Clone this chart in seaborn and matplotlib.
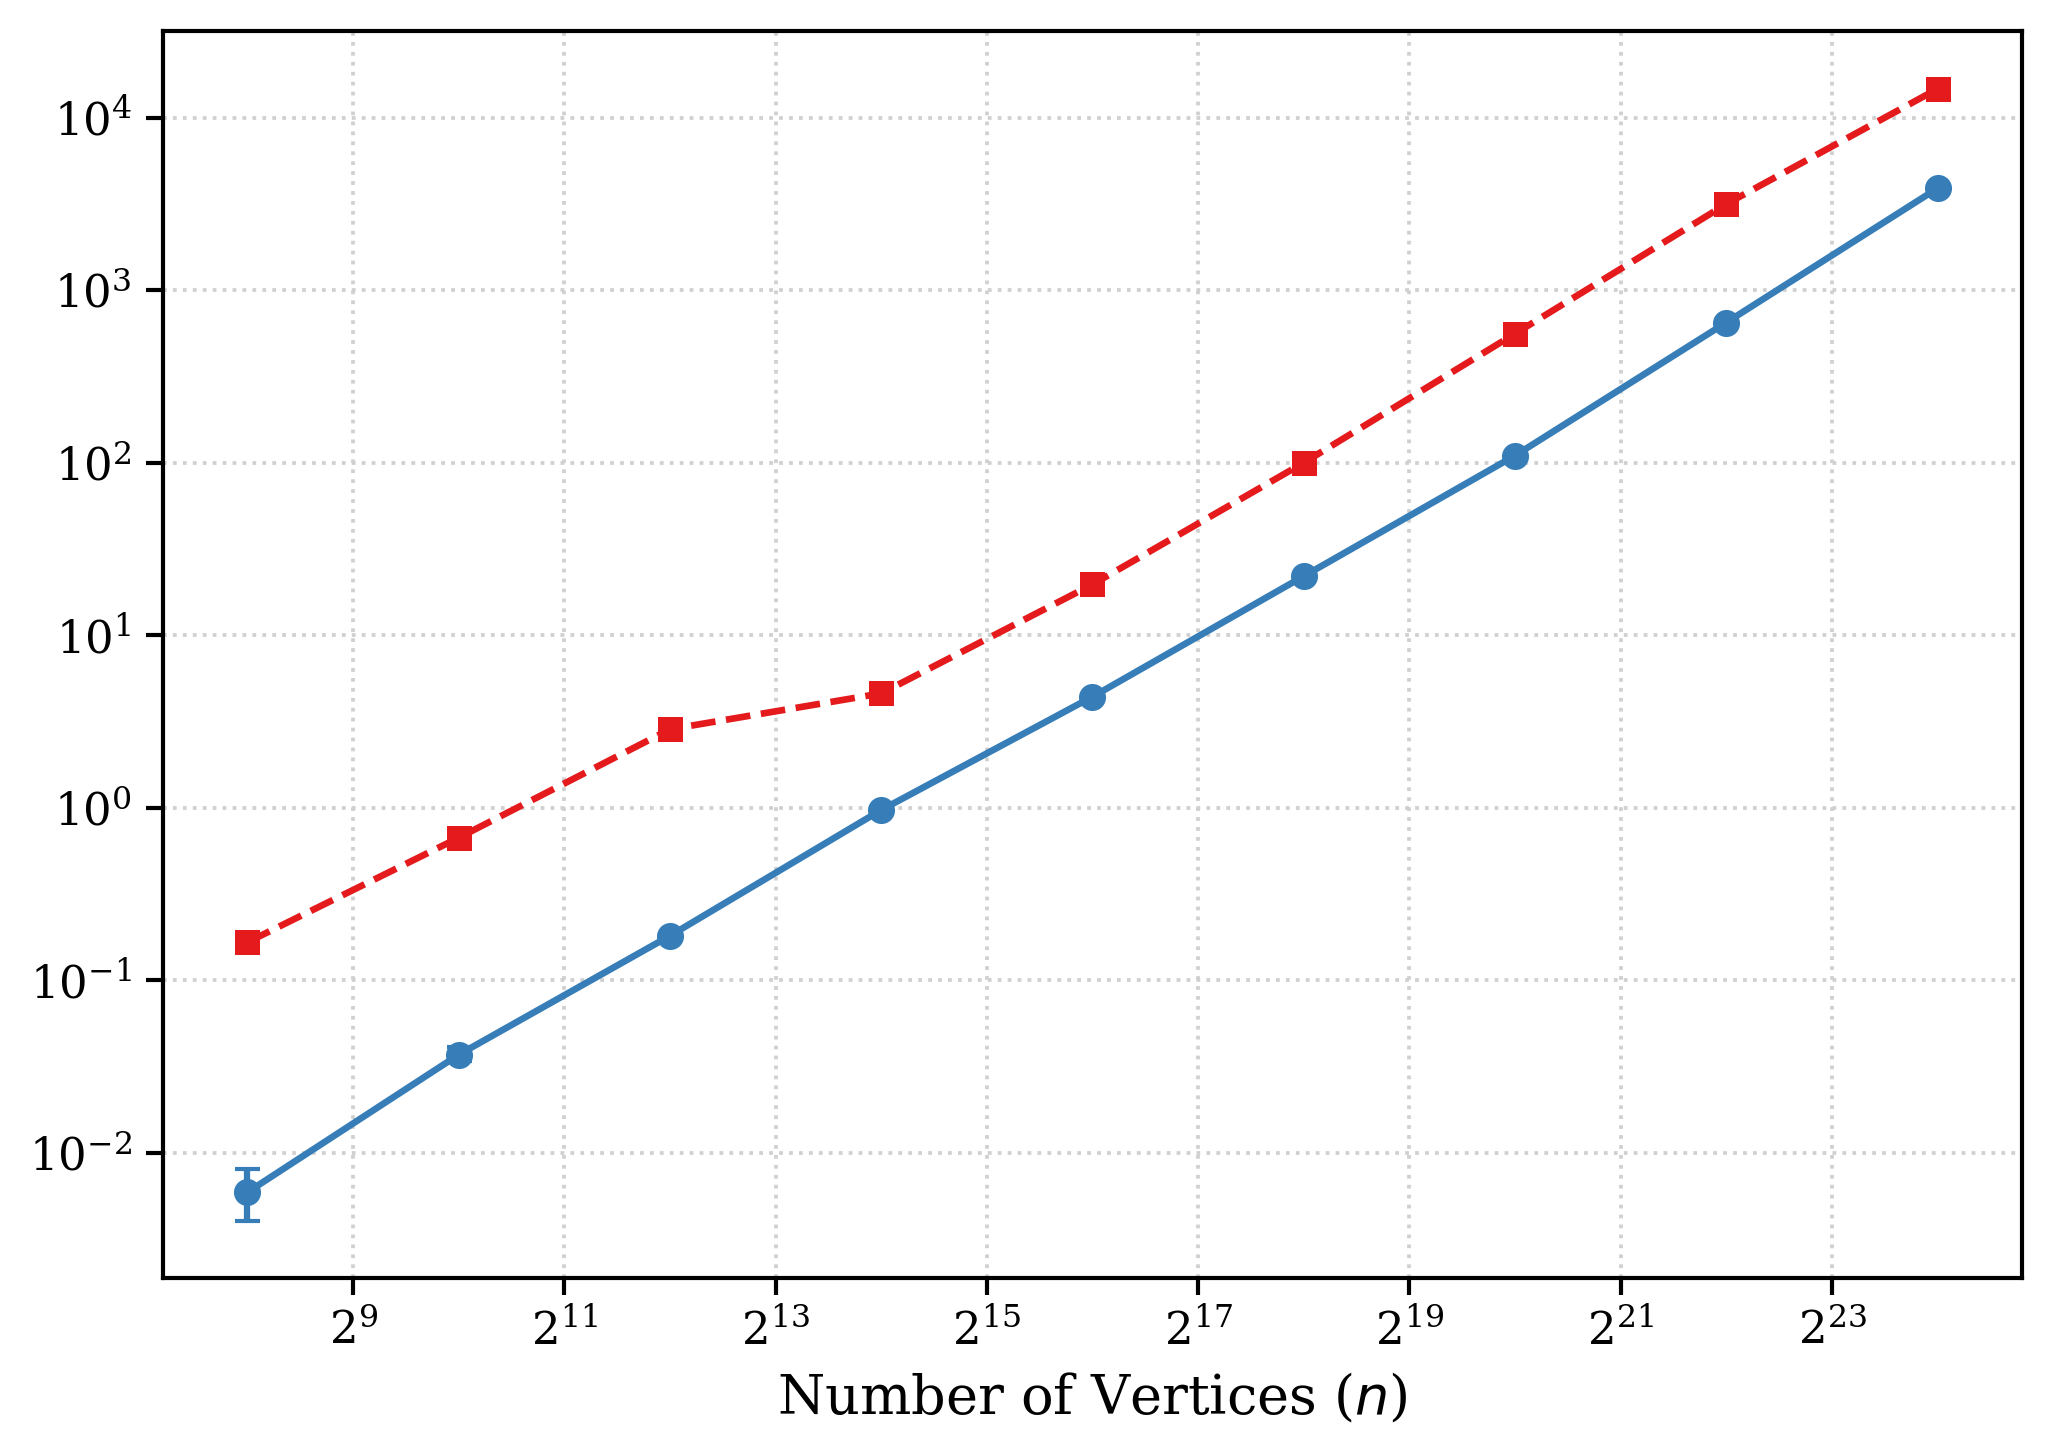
import matplotlib
matplotlib.use("Agg")
import matplotlib.pyplot as plt
import seaborn as sns
import numpy as np
import pandas as pd
from matplotlib.ticker import NullLocator, FixedLocator, LogFormatterSciNotation

exponents = [8, 10, 12, 14, 16, 18, 20, 22, 24]
n_vertices = [2 ** e for e in exponents]

red_values = [0.166, 0.67, 2.85, 4.6, 19.7, 100, 560, 3160, 14700]
red_err = [0.005, 0.02, 0.08, 0.1, 0.4, 2, 10, 60, 250]

blue_values = [0.0059, 0.037, 0.181, 0.97, 4.4, 22, 110, 650, 3900]
blue_err_low = [0.0019, 0.003, 0.004, 0.01, 0.05, 0.2, 1, 5, 30]
blue_err_high = [0.0021, 0.004, 0.004, 0.01, 0.05, 0.2, 1, 5, 30]

xtick_exponents = [9, 11, 13, 15, 17, 19, 21, 23]

RED = "#e41a1c"
BLUE = "#377eb8"

sns.set_style("ticks")
plt.rcParams["font.family"] = ["DejaVu Serif"]
plt.rcParams["axes.linewidth"] = 1.0
plt.rcParams["text.color"] = "black"
plt.rcParams["axes.labelcolor"] = "black"
plt.rcParams["xtick.color"] = "black"
plt.rcParams["ytick.color"] = "black"
plt.rcParams["axes.edgecolor"] = "black"

fig = plt.figure(figsize=(2052 / 300, 1452 / 300), dpi=300)
ax = fig.add_axes([0.0794, 0.1198, 0.906, 0.8589])

df_red = pd.DataFrame({"n": n_vertices, "t": red_values})
df_blue = pd.DataFrame({"n": n_vertices, "t": blue_values})

ax.errorbar(n_vertices, red_values, yerr=red_err, fmt="none", ecolor=RED,
            elinewidth=1.5, capsize=3, zorder=2)
ax.errorbar(n_vertices, blue_values, yerr=[blue_err_low, blue_err_high], fmt="none",
            ecolor=BLUE, elinewidth=1.5, capsize=3, zorder=2)

sns.lineplot(data=df_red, x="n", y="t", ax=ax, color=RED, linestyle="--",
             marker="s", markersize=6, markeredgewidth=0, linewidth=1.6,
             errorbar=None, zorder=3)
sns.lineplot(data=df_blue, x="n", y="t", ax=ax, color=BLUE, linestyle="-",
             marker="o", markersize=6.5, markeredgewidth=0, linewidth=1.6,
             errorbar=None, zorder=3)

ax.set_xscale("log", base=2)
ax.set_yscale("log")
ax.xaxis.set_major_locator(FixedLocator([2 ** e for e in xtick_exponents]))
ax.xaxis.set_minor_locator(NullLocator())
ax.yaxis.set_minor_locator(NullLocator())
ax.xaxis.set_major_formatter(LogFormatterSciNotation(base=2))

ax.grid(True, which="major", linestyle=":", color="#d0d0d0", linewidth=0.9)
ax.set_axisbelow(True)
for s in ax.spines.values():
    s.set_visible(True)
    s.set_color("black")

ax.tick_params(axis="both", which="major", labelsize=10.8, length=4, width=1,
               color="black", labelcolor="black")
ax.set_xlabel("Number of Vertices ($n$)", fontsize=13, color="black")
ax.set_ylabel("")

fig.savefig("out.png", dpi=300)
